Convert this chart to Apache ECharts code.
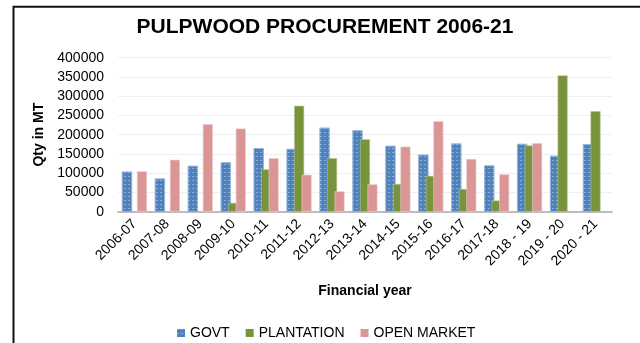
<!DOCTYPE html>
<html>
<head>
<meta charset="utf-8">
<script src="https://cdn.jsdelivr.net/npm/echarts@6/dist/echarts.min.js"></script>
<style>
  html, body { margin: 0; padding: 0; background: #fff; }
  #chart { width: 640px; height: 343px; }
</style>
</head>
<body>
<div id="chart"></div>
<script>
// Financial years on the category axis
const years = ['2006-07', '2007-08', '2008-09', '2009-10', '2010-11', '2011-12', '2012-13',
  '2013-14', '2014-15', '2015-16', '2016-17', '2017-18', '2018 - 19', '2019 - 20', '2020 - 21'];

// Pulpwood procured per source, in MT
const govt = [104000, 86000, 119000, 128000, 165000, 163000, 218000, 211000,
  171000, 148000, 177000, 120000, 176000, 145000, 175000];
const plantation = [null, null, null, 23000, 110000, 275000, 139000, 188000,
  72000, 93000, 59000, 29000, 172000, 354000, 261000];
const openMarket = [105000, 135000, 227000, 216000, 139000, 96000, 53000, 71000,
  169000, 235000, 137000, 97000, 178000, null, null];

// Value axis ticks
const yTicks = { min: 0, max: 400000, step: 50000 };

const FONT = '"Liberation Sans", Arial, sans-serif';

const chart = echarts.init(document.getElementById('chart'), null, { renderer: 'canvas' });

const barBase = { type: 'bar', barWidth: 10, barGap: '-25%' };

// Small white dash pattern on the GOVT bars
const govtDecal = {
  symbol: 'rect',
  symbolSize: 1,
  color: 'rgba(255,255,255,0.35)',
  dashArrayX: [[2, 2]],
  dashArrayY: [1, 3],
  rotation: 0
};

chart.setOption({
  animation: false,
  backgroundColor: '#ffffff',
  textStyle: { fontFamily: FONT },
  title: {
    text: 'PULPWOOD PROCUREMENT 2006-21',
    left: 325,
    top: 17,
    textAlign: 'center',
    padding: 0,
    textStyle: { fontFamily: FONT, fontSize: 21, fontWeight: 'bold', color: '#000' }
  },
  graphic: [{
    type: 'rect',
    shape: { x: 13.5, y: 6.7, width: 700, height: 400 },
    style: { fill: 'none', stroke: '#111', lineWidth: 2 },
    silent: true
  }],
  legend: {
    left: 177,
    top: 326,
    padding: 0,
    itemWidth: 8,
    itemHeight: 8,
    itemGap: 16,
    icon: 'rect',
    itemStyle: { borderWidth: 0 },
    textStyle: { fontFamily: FONT, fontSize: 14, color: '#000' },
    data: ['GOVT', 'PLANTATION', 'OPEN MARKET']
  },
  grid: { left: 118, right: 28, top: 57.7, bottom: 131.3, containLabel: false },
  xAxis: {
    type: 'category',
    data: years,
    name: 'Financial year',
    nameLocation: 'middle',
    nameGap: 72,
    nameTextStyle: { fontFamily: FONT, fontSize: 14, fontWeight: 'bold', color: '#000' },
    axisLine: { lineStyle: { color: '#bcbcbc', width: 2 } },
    axisTick: { show: false },
    axisLabel: { rotate: 45, margin: 10, fontFamily: FONT, fontSize: 14, color: '#000', interval: 0 }
  },
  yAxis: {
    type: 'value',
    min: yTicks.min,
    max: yTicks.max,
    interval: yTicks.step,
    name: 'Qty in MT',
    nameLocation: 'middle',
    nameRotate: 90,
    nameGap: 66,
    nameTextStyle: { fontFamily: FONT, fontSize: 14, fontWeight: 'bold', color: '#000' },
    axisLine: { show: false },
    axisTick: { show: false },
    splitLine: { lineStyle: { color: '#efefef', width: 1 } },
    axisLabel: {
      margin: 14, fontFamily: FONT, fontSize: 14, color: '#000',
      formatter: (v) => String(v)
    }
  },
  series: [
    Object.assign({}, barBase, {
      name: 'GOVT',
      data: govt,
      itemStyle: { color: '#4f81bd', borderColor: '#8fb0da', borderWidth: 0.6, decal: govtDecal }
    }),
    Object.assign({}, barBase, {
      name: 'PLANTATION',
      data: plantation,
      itemStyle: { color: '#77933c', borderColor: '#b3c68f', borderWidth: 0.6 }
    }),
    Object.assign({}, barBase, {
      name: 'OPEN MARKET',
      data: openMarket,
      itemStyle: { color: '#da9694', borderColor: '#efcdcc', borderWidth: 0.6 }
    })
  ]
});
</script>
</body>
</html>
